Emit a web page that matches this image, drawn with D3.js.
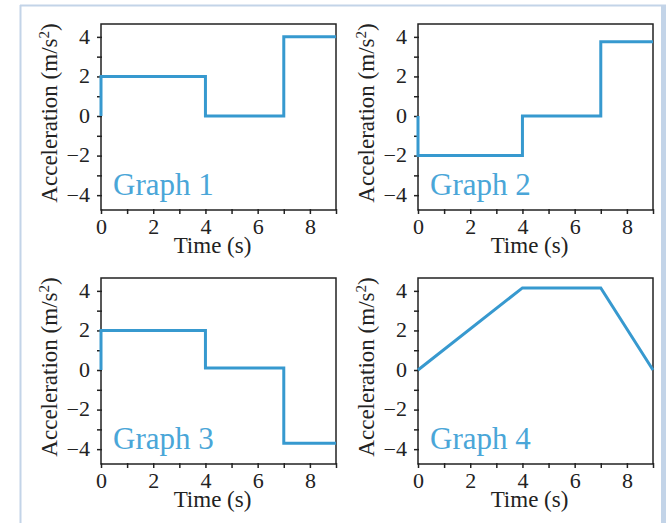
<!DOCTYPE html>
<html>
<head>
<meta charset="utf-8">
<script src="https://cdn.jsdelivr.net/npm/d3@7"></script>
<style>
  body { margin: 0; background: #fff; }
  text { font-family: "Liberation Serif", "Times New Roman", serif; }
</style>
</head>
<body>
<svg id="chart" width="666" height="523"></svg>
<script>
// data
const graphNames = ["Graph 1", "Graph 2", "Graph 3", "Graph 4"]
const g1Time = [0, 0, 4, 4, 7, 7, 9]
const g1Accel = [0, 2, 2, 0, 0, 4, 4]
const g2Time = [0, 0, 4, 4, 7, 7, 9]
const g2Accel = [0, -2, -2, 0, 0, 3.75, 3.75]
const g3Time = [0, 0, 4, 4, 7, 7, 9]
const g3Accel = [0, 2, 2, 0.1, 0.1, -3.7, -3.7]
const g4Time = [0, 4, 7, 9]
const g4Accel = [0, 4.15, 4.15, 0]
const xMajorTicks = [0, 2, 4, 6, 8]
const xMinorTicks = [1, 3, 5, 7, 9]
const yMajorTicks = [-4, -2, 0, 2, 4]
const yMinorTicks = [-3, -1, 1, 3]

const series = [
  {name: graphNames[0], t: g1Time, a: g1Accel},
  {name: graphNames[1], t: g2Time, a: g2Accel},
  {name: graphNames[2], t: g3Time, a: g3Accel},
  {name: graphNames[3], t: g4Time, a: g4Accel}
]

var svg = d3.select("#chart")
var lineColor = "#3799cf",
    labelColor = "#4aa6d8",
    frameColor = "#c3d4e8"

// outer page frame
svg.append("line").attr("x1", 20).attr("x2", 666).attr("y1", 5.5).attr("y2", 5.5)
  .attr("stroke", frameColor).attr("stroke-width", 2)
svg.append("line").attr("x1", 20.5).attr("x2", 20.5).attr("y1", 5).attr("y2", 523)
  .attr("stroke", frameColor).attr("stroke-width", 2)
svg.append("rect").attr("x", 661).attr("y", 5).attr("width", 5).attr("height", 518)
  .attr("fill", frameColor)

var pw = 235, ph = 186
var lefts = [101, 418], tops = [24, 278]

var x = d3.scaleLinear().domain([0, 9]).range([0, pw])
var y = d3.scaleLinear().domain([-4.75, 4.65]).range([ph, 0])

series.forEach(function(s, i) {
  var col = i % 2, row = Math.floor(i / 2)
  var g = svg.append("g")
    .attr("transform", "translate(" + lefts[col] + "," + tops[row] + ")")

  // minor ticks
  g.append("g").attr("transform", "translate(0," + ph + ")")
    .call(d3.axisBottom(x).tickValues(xMinorTicks).tickSize(5).tickFormat(""))
  g.append("g")
    .call(d3.axisLeft(y).tickValues(yMinorTicks).tickSize(5).tickFormat(""))

  // major ticks with labels
  g.append("g").attr("class", "xax").attr("transform", "translate(0," + ph + ")")
    .call(d3.axisBottom(x).tickValues(xMajorTicks).tickSize(5).tickPadding(5))
  g.append("g").attr("class", "yax")
    .call(d3.axisLeft(y).tickValues(yMajorTicks).tickSize(5))

  g.selectAll(".domain").remove()
  g.selectAll(".tick line").attr("stroke", "#222").attr("stroke-width", 1.5)
    .attr("transform", function() {
      return this.getAttribute("x2") ? "translate(1,0)" : "translate(0,-1)"
    })
  // the scan is a bit wider than tall, so the digits get stretched a little
  g.selectAll(".tick text")
    .attr("font-size", 20).attr("fill", "#222")
    .attr("transform", "scale(1.1,1)")
  g.selectAll(".yax .tick text").attr("x", -10)

  // plot frame
  g.append("rect").attr("width", pw).attr("height", ph)
    .attr("fill", "none").attr("stroke", "#222").attr("stroke-width", 1.5)

  // data line
  var pts = s.t.map((d, k) => [d, s.a[k]])
  g.append("path")
    .datum(pts)
    .attr("fill", "none")
    .attr("stroke", lineColor)
    .attr("stroke-width", 3)
    .attr("d", d3.line().x(d => x(d[0])).y(d => y(d[1])))

  // graph name
  g.append("text")
    .attr("x", 12).attr("y", ph - 15)
    .attr("font-size", 31)
    .attr("fill", labelColor)
    .text(s.name)

  // axis titles
  g.append("text")
    .attr("x", pw / 2 - 6).attr("y", ph + 43)
    .attr("text-anchor", "middle")
    .attr("font-size", 23).attr("fill", "#222")
    .text("Time (s)")

  var yl = g.append("text")
    .attr("transform", "translate(-44," + (ph / 2 - 4) + ") rotate(-90)")
    .attr("text-anchor", "middle")
    .attr("font-size", 23).attr("fill", "#222")
  yl.append("tspan").text("Acceleration (m/s")
  yl.append("tspan").attr("font-size", 15).attr("dy", -8).text("2")
  yl.append("tspan").attr("dy", 8).text(")")
})
</script>
</body>
</html>
